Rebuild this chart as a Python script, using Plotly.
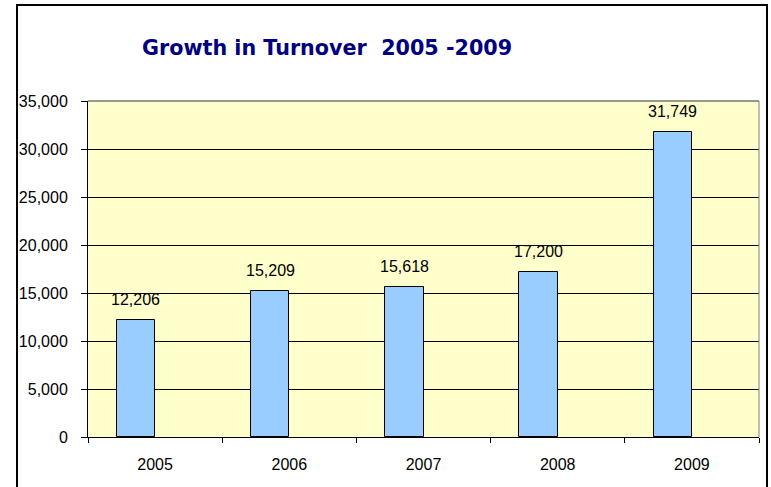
import plotly.graph_objects as go

# Turnover per year
years = ["2005", "2006", "2007", "2008", "2009"]
turnover = [12206, 15209, 15618, 17200, 31749]
y_ticks = [0, 5000, 10000, 15000, 20000, 25000, 30000, 35000]

W, H = 771, 487
L, R, T, B = 88, 12, 101, 50
plot_w = W - L - R
plot_h = H - T - B

# Bars occupy the left half of a two-slot group (150% gap), like a spreadsheet chart
bar_w = 2 / 7
bar_off = -2 / 7

fig = go.Figure()
fig.add_trace(go.Bar(
    x=years,
    y=turnover,
    width=bar_w,
    offset=bar_off,
    marker=dict(color="#99CCFF", line=dict(color="#000000", width=1)),
    hoverinfo="x+y",
))

# Value labels centred above each bar (category positions by index)
for i, v in enumerate(turnover):
    fig.add_annotation(
        x=i + bar_off + bar_w / 2, y=v, xref="x", yref="y",
        text=f"{v:,}",
        showarrow=False,
        yanchor="bottom",
        yshift=10,
        font=dict(family="Liberation Sans, Arial", size=16, color="#000000"),
    )

# Top and right edges of the plot area
fig.add_shape(type="line", xref="paper", yref="paper", x0=0, x1=1, y0=1, y1=1,
              line=dict(color="#333333", width=1))
fig.add_shape(type="line", xref="paper", yref="paper", x0=1, x1=1, y0=0, y1=1,
              line=dict(color="#808080", width=1))

# Outer chart frame
fig.add_shape(type="rect", xref="paper", yref="paper",
              x0=(17 - L) / plot_w, x1=(767 - L) / plot_w,
              y0=(T + plot_h - (H + 5)) / plot_h, y1=(T + plot_h - 5) / plot_h,
              line=dict(color="#000000", width=2), layer="below")

fig.update_layout(
    width=W, height=H, autosize=False,
    margin=dict(l=L, r=R, t=T, b=B, pad=0),
    paper_bgcolor="#FFFFFF",
    plot_bgcolor="#FFFFCC",
    showlegend=False,
    bargap=0,
    title=dict(
        text="<b>Growth in Turnover&nbsp;&nbsp;2005 -2009</b>",
        x=142 / W, xanchor="left", xref="container",
        y=1 - 48 / H, yanchor="middle", yref="container",
        font=dict(family="DejaVu Sans", size=20.7, color="#000080"),
    ),
    font=dict(family="Liberation Sans, Arial", size=16, color="#000000"),
)

fig.update_xaxes(
    type="category",
    categoryorder="array", categoryarray=years,
    range=[-0.5, len(years) - 0.5],
    autorange=False,
    tickson="boundaries",
    ticks="outside", ticklen=5, tickcolor="#000000", tickwidth=1,
    tickangle=0,
    showline=True, linecolor="#000000", linewidth=1,
    showgrid=False,
    tickfont=dict(family="Liberation Sans, Arial", size=16, color="#000000"),
    ticklabelstandoff=13,
    fixedrange=True,
)
fig.update_yaxes(
    range=[0, 35000],
    autorange=False,
    tickvals=y_ticks,
    tickformat=",",
    ticks="outside", ticklen=6, tickcolor="#000000", tickwidth=1,
    showline=True, linecolor="#000000", linewidth=1,
    showgrid=True, gridcolor="#000000", gridwidth=1,
    zeroline=False,
    tickfont=dict(family="Liberation Sans, Arial", size=16, color="#000000"),
    ticklabelstandoff=10,
    fixedrange=True,
)

fig.write_html("out.html")
